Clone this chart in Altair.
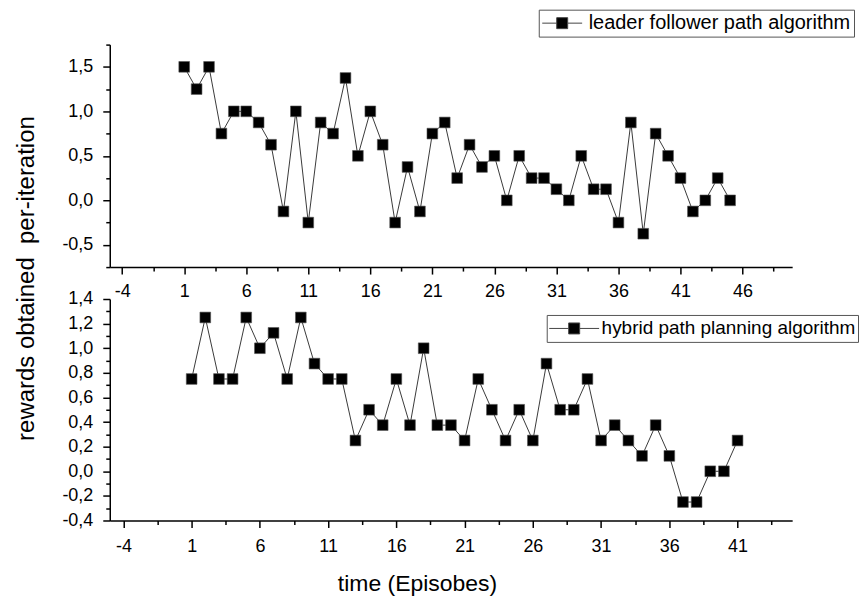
import altair as alt
import pandas as pd

# ---- data ----
leader_name = "leader follower path algorithm"
leader_episodes = list(range(1, 46))
leader_rewards = [1.5, 1.25, 1.5, 0.75, 1.0, 1.0, 0.875, 0.625, -0.125, 1.0,
                  -0.25, 0.875, 0.75, 1.375, 0.5, 1.0, 0.625, -0.25, 0.375, -0.125,
                  0.75, 0.875, 0.25, 0.625, 0.375, 0.5, 0.0, 0.5, 0.25, 0.25,
                  0.125, 0.0, 0.5, 0.125, 0.125, -0.25, 0.875, -0.375, 0.75, 0.5,
                  0.25, -0.125, 0.0, 0.25, 0.0]

hybrid_name = "hybrid path planning algorithm"
hybrid_episodes = list(range(1, 42))
hybrid_rewards = [0.75, 1.25, 0.75, 0.75, 1.25, 1.0, 1.125, 0.75, 1.25, 0.875,
                  0.75, 0.75, 0.25, 0.5, 0.375, 0.75, 0.375, 1.0, 0.375, 0.375,
                  0.25, 0.75, 0.5, 0.25, 0.5, 0.25, 0.875, 0.5, 0.5, 0.75,
                  0.25, 0.375, 0.25, 0.125, 0.375, 0.125, -0.25, -0.25, 0.0, 0.0,
                  0.25]

# tick values (major + minor)
top_x_ticks = [-4, -1.5, 1, 3.5, 6, 8.5, 11, 13.5, 16, 18.5, 21, 23.5, 26, 28.5,
               31, 33.5, 36, 38.5, 41, 43.5, 46, 48.5]
bottom_x_ticks = [-4, -1.5, 1, 3.5, 6, 8.5, 11, 13.5, 16, 18.5, 21, 23.5, 26,
                  28.5, 31, 33.5, 36, 38.5, 41, 43.5]
top_y_ticks = [-0.75, -0.5, -0.25, 0.0, 0.25, 0.5, 0.75, 1.0, 1.25, 1.5, 1.75]
bottom_y_ticks = [-0.4, -0.3, -0.2, -0.1, 0.0, 0.1, 0.2, 0.3, 0.4, 0.5, 0.6,
                  0.7, 0.8, 0.9, 1.0, 1.1, 1.2, 1.3, 1.4]

top_df = pd.DataFrame({"episode": leader_episodes, "reward": leader_rewards,
                       "series": leader_name})
bottom_df = pd.DataFrame({"episode": hybrid_episodes, "reward": hybrid_rewards,
                          "series": hybrid_name})

FONT = "Liberation Sans"
X_MAJOR = "(datum.value + 4) % 5 == 0"
X_LABEL = "(datum.value + 4) % 5 == 0 ? datum.value + '' : ''"
TOP_Y_MAJOR = "abs(datum.value * 2 - round(datum.value * 2)) < 0.001"
BOT_Y_MAJOR = "abs(datum.value * 5 - round(datum.value * 5)) < 0.001"


def ylab(test):
    return ("(" + test + ") ? ((datum.value < 0 ? '-' : '') + "
            "replace(format(abs(datum.value), '.1f'), '.', ',')) : ''")


def tick_size(test):
    return {"condition": {"test": test, "value": 7}, "value": 4}


def panel(df, name, xdom, xticks, ydom, yticks, ytest, w, h,
          legend_x, legend_y, sym_path, sym_size, clip_h, lab_off, leg_pad,
          leg_font, x_pad, x_title=None, y_title=None):
    xaxis = dict(values=xticks, labelExpr=X_LABEL, tickSize=tick_size(X_MAJOR),
                 labelPadding=x_pad, labelOverlap=False, labelFlush=False,
                 labelFontSize=18, grid=False, title=None)
    if x_title:
        xaxis.update(title=x_title, titleX=308, titleY=70,
                     titleAlign="center", titleBaseline="alphabetic",
                     titleFontSize=23, titleFontWeight="normal")
    yaxis = dict(values=yticks, labelExpr=ylab(ytest), tickSize=tick_size(ytest),
                 labelPadding=10, labelOverlap=False, labelFontSize=18,
                 grid=False, title=None)
    if y_title:
        yaxis.update(title=y_title, titleX=-83, titleY=-21, titleAngle=270,
                     titleAlign="center", titleBaseline="middle",
                     titleFontSize=24, titleFontWeight="normal")
    x = alt.X("episode:Q", scale=alt.Scale(domain=xdom, nice=False, zero=False),
              axis=alt.Axis(**xaxis))
    y = alt.Y("reward:Q", scale=alt.Scale(domain=ydom, nice=False, zero=False),
              axis=alt.Axis(**yaxis))
    base = alt.Chart(df)
    line = base.mark_line(color="#3a3a3a", strokeWidth=1).encode(x=x, y=y)
    pts = base.mark_square(size=115, filled=True, opacity=1, stroke="#555",
                           strokeWidth=0.6).encode(
        x=x, y=y,
        color=alt.Color("series:N",
                        scale=alt.Scale(domain=[name], range=["black"]),
                        legend=alt.Legend(
                            title=None, orient="none", legendX=legend_x,
                            legendY=legend_y, symbolType=sym_path,
                            symbolSize=sym_size, symbolStrokeColor="#444",
                            symbolStrokeWidth=1, symbolFillColor="black",
                            labelFont=FONT, labelFontSize=leg_font,
                            labelColor="black",
                            labelLimit=500, labelOffset=lab_off,
                            clipHeight=clip_h, padding=leg_pad,
                            strokeColor="#555", fillColor="white",
                            cornerRadius=0)))
    return alt.layer(line, pts).properties(width=w, height=h)


top = panel(top_df, leader_name, [-5, 50], top_x_ticks, [-0.75, 1.75],
            top_y_ticks, TOP_Y_MAJOR, 684, 223,
            430, -35,
            "M-1,0H-0.275M0.275,0H1M-0.275,-0.275H0.275V0.275H-0.275Z",
            1600, 21, 6, 3, 20, 8)
bottom = panel(bottom_df, hybrid_name, [-5, 45], bottom_x_ticks, [-0.4, 1.4],
               bottom_y_ticks, BOT_Y_MAJOR, 684, 222,
               438, 16,
               "M-1,0H-0.22M0.22,0H1M-0.22,-0.22H0.22V0.22H-0.22Z",
               2500, 23, 2, 2, 19, 10,
               x_title="time (Episobes)",
               y_title="rewards obtained\u00a0 per-iteration")

chart = alt.vconcat(top, bottom, spacing=32, bounds="flush").resolve_scale(
    color="independent").properties(
    padding={"left": 6, "top": 0, "right": 0, "bottom": 0}
).configure(font=FONT).configure_view(stroke=None).configure_axis(
    domainColor="black", domainWidth=1.5, tickColor="black", tickWidth=1.5,
    labelColor="black", labelFont=FONT, titleFont=FONT, titleColor="black"
)

chart.save("out.html", embed_options={"renderer": "svg", "actions": False})
